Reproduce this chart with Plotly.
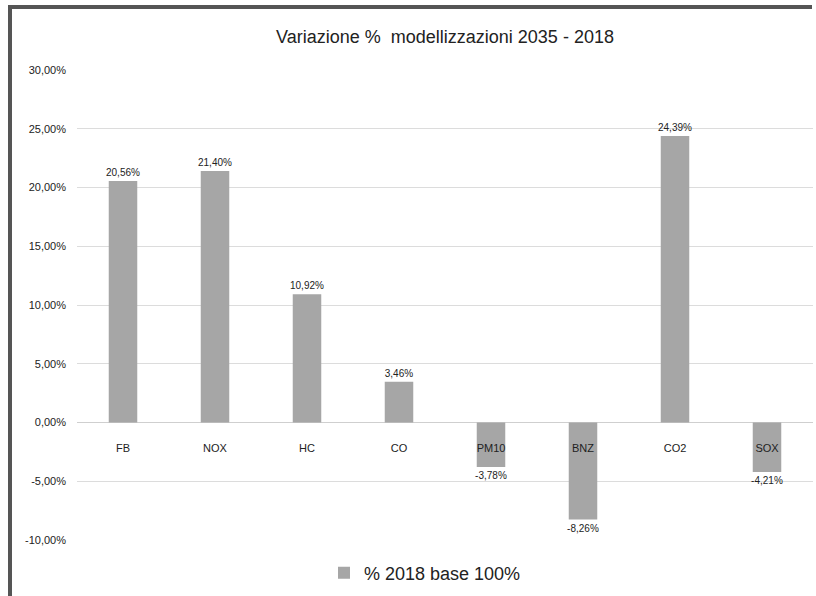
import plotly.graph_objects as go

categories = ["FB", "NOX", "HC", "CO", "PM10", "BNZ", "CO2", "SOX"]
values = [20.56, 21.40, 10.92, 3.46, -3.78, -8.26, 24.39, -4.21]
series_name = "% 2018 base 100%"
title_text = "Variazione %  modellizzazioni 2035 - 2018"
y_ticks = [-10, -5, 0, 5, 10, 15, 20, 25, 30]


def fmt_it(v):
    return ("%.2f" % v).replace(".", ",") + "%"


FONT = "Liberation Sans, Arial, sans-serif"
W, H = 816, 596
ML, MR, MT, MB = 77, 3, 70, 56

fig = go.Figure()
fig.add_trace(go.Bar(
    x=categories, y=values, name=series_name,
    marker=dict(color="#a6a6a6", line=dict(width=0)),
    width=0.31,
    text=[fmt_it(v) for v in values], textposition="outside",
    constraintext="none",
    textfont=dict(family=FONT, size=10, color="#222222"),
    cliponaxis=False,
))

pw = W - ML - MR
ph = H - MT - MB


def px_to_paper_x(px):
    return (px - ML) / pw


def px_to_paper_y(py):
    return (H - MB - py) / ph


fig.update_layout(
    width=W, height=H,
    margin=dict(l=ML, r=MR, t=MT, b=MB),
    paper_bgcolor="white", plot_bgcolor="white",
    title=dict(text=title_text, x=0.5, xref="paper", xanchor="center",
               y=1 - 37 / H, yanchor="middle",
               font=dict(family=FONT, size=18, color="#222222")),
    showlegend=True,
    legend=dict(orientation="h", x=px_to_paper_x(425), xanchor="center",
                y=px_to_paper_y(573), yanchor="middle",
                font=dict(family=FONT, size=18, color="#222222")),
    xaxis=dict(anchor="free", position=(0 - (-10)) / 40, showgrid=False,
               showline=False, ticks="", ticklabelstandoff=17,
               tickfont=dict(family=FONT, size=11, color="#222222")),
    yaxis=dict(range=[-10, 30], tickvals=y_ticks, ticktext=[fmt_it(v) for v in y_ticks],
               showgrid=True, gridcolor="#dcdcdc", gridwidth=1,
               zeroline=True, zerolinecolor="#cfcfcf", zerolinewidth=1,
               showline=False, ticks="", ticklabelstandoff=10,
               tickfont=dict(family=FONT, size=11, color="#222222")),
    shapes=[
        dict(type="line", xref="paper", yref="paper",
             x0=px_to_paper_x(10), x1=px_to_paper_x(10),
             y0=px_to_paper_y(5), y1=px_to_paper_y(596),
             line=dict(color="#555555", width=4)),
        dict(type="line", xref="paper", yref="paper",
             x0=px_to_paper_x(8), x1=px_to_paper_x(812),
             y0=px_to_paper_y(7), y1=px_to_paper_y(7),
             line=dict(color="#555555", width=4)),
    ],
)

fig.write_html("out.html", config={"displayModeBar": False},
               post_script="document.body.style.margin='0';")
